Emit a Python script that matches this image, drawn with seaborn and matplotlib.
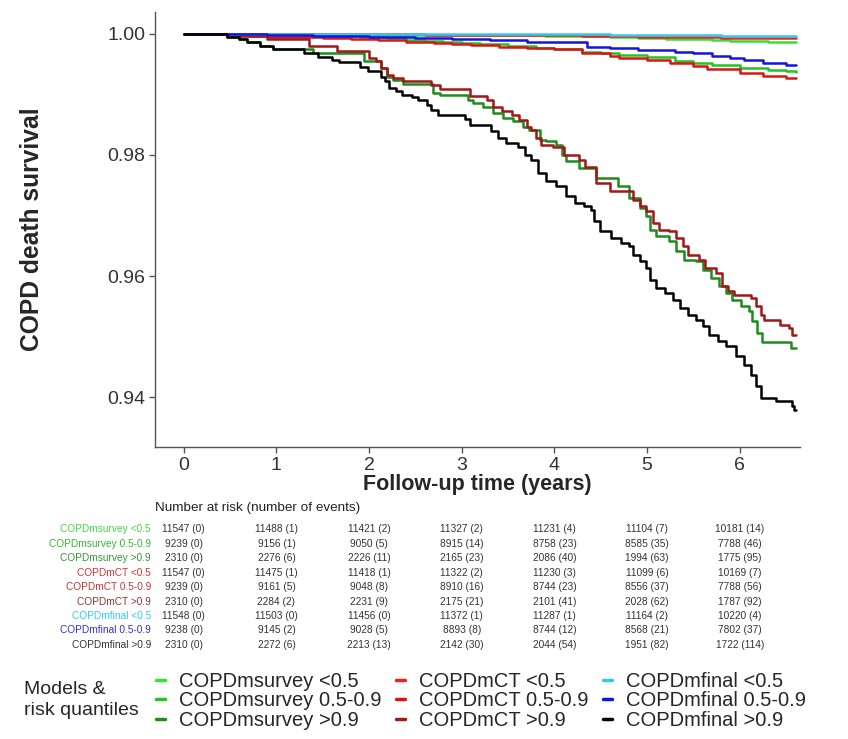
import numpy as np
import pandas as pd
import seaborn as sns
import matplotlib
matplotlib.use("Agg")
import matplotlib.pyplot as plt
from matplotlib.lines import Line2D
import matplotlib.transforms as mtransforms

# ---------------- data ----------------
groups = ["COPDmsurvey <0.5", "COPDmsurvey 0.5-0.9", "COPDmsurvey >0.9",
          "COPDmCT <0.5", "COPDmCT 0.5-0.9", "COPDmCT >0.9",
          "COPDmfinal <0.5", "COPDmfinal 0.5-0.9", "COPDmfinal >0.9"]

# (time in years, survival) step points
survey_lo = [(0, 1.0), (0.7, 0.99991), (1.6, 0.99983), (3.4, 0.99974), (3.9, 0.99965),
             (4.3, 0.99957), (4.6, 0.99948), (4.9, 0.99939), (5.2, 0.99922), (5.5, 0.99913),
             (5.7, 0.99905), (5.9, 0.99888), (6.1, 0.99879), (6.3, 0.99870), (6.61, 0.99870)]

survey_mid = [(0, 1.0), (0.9, 0.99989), (1.3, 0.99978), (1.6, 0.99967), (1.9, 0.99946),
              (2.2, 0.99924), (2.4, 0.99902), (2.6, 0.99881), (2.8, 0.99859), (3.0, 0.99848),
              (3.2, 0.99837), (3.5, 0.99805), (3.8, 0.99772), (4.0, 0.99750), (4.3, 0.99708),
              (4.5, 0.99680), (4.7, 0.99650), (5.0, 0.99620), (5.3, 0.99543), (5.5, 0.99515),
              (5.7, 0.99488), (6.0, 0.99434), (6.3, 0.99406), (6.5, 0.99380), (6.61, 0.99368)]

survey_hi = [(0, 1.0), (0.47, 0.99955), (0.6, 0.9992), (0.68, 0.9987), (0.82, 0.9980),
             (0.96, 0.99745), (1.4, 0.9969), (1.95, 0.9955), (2.13, 0.99434), (2.19, 0.99295),
             (2.26, 0.9924), (2.37, 0.99175), (2.69, 0.99021), (2.76, 0.98993), (3.07, 0.98911),
             (3.12, 0.98856), (3.23, 0.988), (3.34, 0.98691), (3.44, 0.98609), (3.55, 0.98553),
             (3.66, 0.9847), (3.73, 0.98416), (3.84, 0.98251), (3.91, 0.98223), (4.02, 0.98168),
             (4.08, 0.9800), (4.13, 0.97893), (4.27, 0.97784), (4.45, 0.97618), (4.69, 0.9748),
             (4.81, 0.97289), (4.92, 0.97124), (4.99, 0.96985), (5.03, 0.96766), (5.10, 0.96655),
             (5.24, 0.96573), (5.31, 0.96408), (5.40, 0.96271), (5.53, 0.96243), (5.60, 0.96106),
             (5.69, 0.95969), (5.78, 0.9583), (5.85, 0.95721), (5.92, 0.95611), (6.01, 0.955),
             (6.10, 0.95418), (6.13, 0.95253), (6.19, 0.95061), (6.24, 0.94906), (6.55, 0.94813),
             (6.61, 0.94813)]

ct_lo = [(0, 1.0), (1.5, 0.99991), (2.6, 0.99983), (3.8, 0.99974), (4.3, 0.99965),
         (4.7, 0.99957), (4.9, 0.99948), (5.8, 0.99939), (6.3, 0.99930), (6.61, 0.99930)]

ct_mid = [(0, 1.0), (0.3, 0.99989), (0.5, 0.99978), (0.7, 0.99967), (0.9, 0.99946),
          (1.5, 0.99935), (1.8, 0.99913), (2.1, 0.99891), (2.4, 0.99870), (2.7, 0.99848),
          (2.9, 0.99827), (3.1, 0.99818), (3.4, 0.99790), (3.7, 0.99770), (4.0, 0.99750),
          (4.3, 0.99681), (4.6, 0.99640), (4.7, 0.99600), (5.0, 0.99560), (5.25, 0.99516),
          (5.5, 0.99470), (5.65, 0.99417), (6.0, 0.99351), (6.25, 0.99296), (6.5, 0.99269),
          (6.61, 0.99269)]

ct_hi = [(0, 1.0), (0.6, 0.99957), (0.9, 0.99913), (1.35, 0.9980), (1.65, 0.9972),
         (2.0, 0.9960), (2.07, 0.99543), (2.13, 0.99434), (2.19, 0.99323), (2.26, 0.99269),
         (2.37, 0.99213), (2.67, 0.99158), (2.76, 0.99087), (3.09, 0.98966), (3.27, 0.98911),
         (3.34, 0.988), (3.43, 0.98718), (3.54, 0.98663), (3.62, 0.98581), (3.70, 0.9847),
         (3.75, 0.98416), (3.80, 0.98279), (3.86, 0.98168), (3.98, 0.9813), (4.10, 0.9800),
         (4.27, 0.97921), (4.33, 0.978), (4.45, 0.97536), (4.60, 0.97398), (4.85, 0.97261),
         (4.92, 0.9715), (4.99, 0.97068), (5.06, 0.96876), (5.13, 0.96766), (5.24, 0.96738),
         (5.31, 0.96629), (5.39, 0.9649), (5.44, 0.96353), (5.56, 0.96271), (5.63, 0.96134),
         (5.74, 0.96051), (5.81, 0.9583), (5.87, 0.95748), (5.94, 0.95693), (6.12, 0.95638),
         (6.17, 0.955), (6.23, 0.95363), (6.26, 0.9528), (6.43, 0.95198), (6.53, 0.95143),
         (6.56, 0.95033), (6.61, 0.95033)]

final_lo = [(0, 1.0), (2.5, 0.99991), (4.6, 0.99983), (5.4, 0.99974), (5.8, 0.99965),
            (6.61, 0.99965)]

final_mid = [(0, 1.0), (0.6, 0.99989), (0.9, 0.99978), (1.4, 0.99967), (1.8, 0.99957),
             (2.0, 0.99946), (2.5, 0.99935), (2.9, 0.99913), (3.3, 0.99892), (3.7, 0.99870),
             (4.0, 0.99857), (4.35, 0.99790), (4.6, 0.99764), (4.9, 0.99740), (5.1, 0.99730),
             (5.3, 0.99708), (5.5, 0.99680), (5.7, 0.99637), (5.9, 0.99600), (6.05, 0.99571),
             (6.25, 0.99516), (6.5, 0.99488), (6.61, 0.99488)]

final_hi = [(0, 1.0), (0.47, 0.99955), (0.6, 0.9992), (0.68, 0.9987), (0.82, 0.9980),
            (0.96, 0.99745), (1.3, 0.99686), (1.45, 0.9962), (1.6, 0.99571), (1.68, 0.99527),
            (1.90, 0.9946), (1.99, 0.99378), (2.13, 0.99295), (2.17, 0.99213), (2.22, 0.99104),
            (2.29, 0.99048), (2.35, 0.98993), (2.46, 0.98955), (2.53, 0.989), (2.62, 0.98828),
            (2.67, 0.98746), (2.74, 0.98663), (3.03, 0.98592), (3.09, 0.98498), (3.32, 0.98388),
            (3.39, 0.98279), (3.48, 0.98196), (3.61, 0.9813), (3.68, 0.98003), (3.75, 0.97921),
            (3.82, 0.97701), (3.91, 0.97563), (4.02, 0.9748), (4.13, 0.97315), (4.22, 0.97206),
            (4.32, 0.9715), (4.40, 0.97096), (4.43, 0.96903), (4.49, 0.96738), (4.61, 0.96629),
            (4.72, 0.96546), (4.81, 0.9649), (4.85, 0.96353), (4.92, 0.96243), (4.99, 0.96134),
            (5.03, 0.95941), (5.10, 0.95804), (5.19, 0.95721), (5.28, 0.95611), (5.35, 0.95473),
            (5.44, 0.95363), (5.53, 0.9528), (5.60, 0.9517), (5.67, 0.95033), (5.76, 0.94923),
            (5.85, 0.9484), (5.96, 0.94675), (6.05, 0.94538), (6.12, 0.94373), (6.17, 0.9418),
            (6.23, 0.93988), (6.39, 0.93932), (6.56, 0.9385), (6.59, 0.93795), (6.61, 0.93795)]

table_times = [0, 1, 2, 3, 4, 5, 6]
at_risk = [
    [11547, 11488, 11421, 11327, 11231, 11104, 10181],
    [9239, 9156, 9050, 8915, 8758, 8585, 7788],
    [2310, 2276, 2226, 2165, 2086, 1994, 1775],
    [11547, 11475, 11418, 11322, 11230, 11099, 10169],
    [9239, 9161, 9048, 8910, 8744, 8556, 7788],
    [2310, 2284, 2231, 2175, 2101, 2028, 1787],
    [11548, 11503, 11456, 11372, 11287, 11164, 10220],
    [9238, 9145, 9028, 8893, 8744, 8568, 7802],
    [2310, 2272, 2213, 2142, 2044, 1951, 1722],
]
n_events = [
    [0, 1, 2, 2, 4, 7, 14],
    [0, 1, 5, 14, 23, 35, 46],
    [0, 6, 11, 23, 40, 63, 95],
    [0, 1, 1, 2, 3, 6, 7],
    [0, 5, 8, 16, 23, 37, 56],
    [0, 2, 9, 21, 41, 62, 92],
    [0, 0, 0, 1, 1, 2, 4],
    [0, 2, 5, 8, 12, 21, 37],
    [0, 6, 13, 30, 54, 82, 114],
]

line_colors = ["#2EE62E", "#22C422", "#1E8C1E",
               "#F02020", "#D91515", "#A01818",
               "#33C8F0", "#1414E0", "#000000"]
text_colors = ["#44DD44", "#33BB33", "#339933",
               "#DD3333", "#CC3333", "#993333",
               "#33CCEE", "#3333CC", "#333333"]

curves = [survey_lo, survey_mid, survey_hi, ct_lo, ct_mid, ct_hi,
          final_lo, final_mid, final_hi]

frames = []
for g, pts in zip(groups, curves):
    t, s = zip(*pts)
    frames.append(pd.DataFrame({"time": t, "surv": s, "group": g}))
df = pd.concat(frames, ignore_index=True)

# ---------------- plotting ----------------
sns.set_style("white")
plt.rcParams["font.family"] = ["Liberation Sans", "DejaVu Sans"]

fig = plt.figure(figsize=(8.48, 7.39), dpi=100)
ax = fig.add_axes([155 / 848, 1 - 447 / 739, 645 / 848, 435 / 739])

sns.lineplot(data=df, x="time", y="surv", hue="group", hue_order=groups,
             palette=dict(zip(groups, line_colors)), estimator=None, sort=False,
             drawstyle="steps-post", linewidth=1.8, legend=False, ax=ax)

ax.set_xlim(-0.31, 6.65)
ax.set_ylim(0.9318, 1.0036)
ax.set_xticks([0, 1, 2, 3, 4, 5, 6])
ax.set_yticks([0.94, 0.96, 0.98, 1.00])
ax.set_yticklabels(["0.94", "0.96", "0.98", "1.00"])
for side in ["top", "right"]:
    ax.spines[side].set_visible(False)
for side in ["left", "bottom"]:
    ax.spines[side].set_color("#555555")
    ax.spines[side].set_linewidth(1.0)
ax.tick_params(axis="both", which="major", length=4, width=1, color="#555555",
               labelsize=14, labelcolor="#333333", left=True, bottom=True, pad=3)
ax.set_xlabel("Follow-up time (years)", fontsize=15.5, fontweight="bold", labelpad=0)
ax.set_ylabel("COPD death survival", fontsize=17.7, fontweight="bold")
ax.yaxis.set_label_coords(-0.172, 0.5)
ax.grid(False)

# ---------------- risk table ----------------
trans = mtransforms.blended_transform_factory(ax.transData, fig.transFigure)
fig.text(155 / 848, 1 - 508 / 739, "Number at risk (number of events)",
         fontsize=9.7, color="#222222", va="center", ha="left")
row_y = [529, 543.7, 558, 572.7, 586.7, 601.7, 615.7, 630.3, 644.7]
for i, g in enumerate(groups):
    yf = 1 - row_y[i] / 739
    fig.text(151 / 848, yf, g, fontsize=7.3, color=text_colors[i], ha="right", va="center")
    for j, tt in enumerate(table_times):
        ax.text(tt, yf, f"{at_risk[i][j]} ({n_events[i][j]})", transform=trans,
                fontsize=7.3, color="#333333", ha="center", va="center", clip_on=False)

# ---------------- legend ----------------
fig.text(24 / 848, 1 - 700 / 739, "Models &\nrisk quantiles", fontsize=14,
         ha="left", va="center", linespacing=1.34)
handles = [Line2D([0], [0], color=c, lw=2.5) for c in line_colors]
fig.legend(handles, groups, ncol=3, loc="center left",
           bbox_to_anchor=(156 / 848, 1 - 701 / 739), frameon=False, fontsize=14.5,
           handlelength=0.45, handletextpad=0.7, columnspacing=0.7,
           labelspacing=0.02, borderaxespad=0, borderpad=0)

fig.savefig("out.png", dpi=100, facecolor="white")
